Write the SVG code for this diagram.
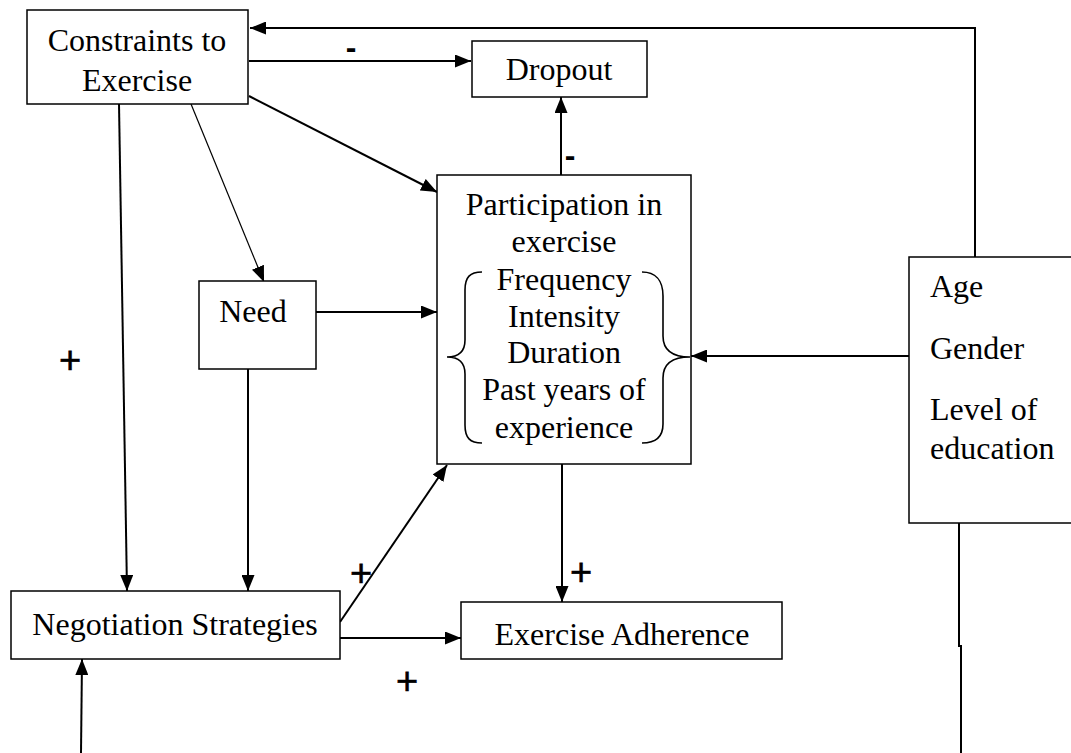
<svg xmlns="http://www.w3.org/2000/svg" width="1071" height="753" viewBox="0 0 1071 753">
<style>
.box{fill:#fff;stroke:#000;stroke-width:1.5}
.t{font-family:"Liberation Serif","Times New Roman",serif;font-size:32px;fill:#000}
.c{text-anchor:middle}
.ln{fill:none;stroke:#000;stroke-width:2}
.thin{fill:none;stroke:#000;stroke-width:1.2}
.s{font-family:"Liberation Sans",Arial,sans-serif;font-size:32px;font-weight:bold;fill:#000;text-anchor:middle}
.p{font-family:"Liberation Sans",Arial,sans-serif;font-size:38px;fill:#000;text-anchor:middle;stroke:#000;stroke-width:0.6}
.br{fill:none;stroke:#000;stroke-width:1.6}
</style>
<defs>
<marker id="ah" markerUnits="userSpaceOnUse" markerWidth="16" markerHeight="13" refX="16" refY="6.5" orient="auto">
<path d="M0,0 L16,6.5 L0,13 z" fill="#000"/>
</marker>
</defs>
<rect width="1071" height="753" fill="#fff"/>
<g id="connectors">
<polyline class="ln" points="975,257 975,28 250,28" marker-end="url(#ah)"/>
<line class="ln" x1="249" y1="61" x2="471" y2="61" marker-end="url(#ah)"/>
<line class="ln" x1="561" y1="175" x2="561" y2="97" marker-end="url(#ah)"/>
<line class="ln" x1="249" y1="96" x2="437" y2="192" marker-end="url(#ah)"/>
<line class="thin" x1="191" y1="104" x2="264" y2="282" marker-end="url(#ah)"/>
<line class="ln" x1="119" y1="104" x2="127" y2="591" marker-end="url(#ah)"/>
<line class="ln" x1="316" y1="312" x2="437" y2="312" marker-end="url(#ah)"/>
<line class="ln" x1="248" y1="369" x2="248" y2="591" marker-end="url(#ah)"/>
<line class="ln" x1="340" y1="622" x2="447" y2="465" marker-end="url(#ah)"/>
<line class="ln" x1="340" y1="638" x2="461" y2="638" marker-end="url(#ah)"/>
<line class="ln" x1="562" y1="464" x2="562" y2="602" marker-end="url(#ah)"/>
<line class="ln" x1="909" y1="356" x2="691" y2="356" marker-end="url(#ah)"/>
<polyline class="ln" points="959,523 959,646 961,646 961,753"/>
<line class="ln" x1="81" y1="753" x2="82" y2="659" marker-end="url(#ah)"/>
<text class="s" x="351" y="58">-</text>
<text class="s" x="570" y="166">-</text>
<text class="p" x="70" y="373">+</text>
<text class="p" x="361" y="586">+</text>
<text class="p" x="407" y="694">+</text>
<text class="p" x="581" y="585">+</text>
</g>
<g id="constraints">
<rect class="box" x="27" y="10" width="221" height="94"/>
<text class="t c" x="137" y="51">Constraints to</text>
<text class="t c" x="137" y="91">Exercise</text>
</g>
<g id="dropout">
<rect class="box" x="472" y="41" width="175" height="56"/>
<text class="t c" x="559" y="80">Dropout</text>
</g>
<g id="participation">
<rect class="box" x="437" y="175" width="254" height="289"/>
<text class="t c" x="564" y="215">Participation in</text>
<text class="t c" x="564" y="252">exercise</text>
<text class="t c" x="564" y="290">Frequency</text>
<text class="t c" x="564" y="327">Intensity</text>
<text class="t c" x="564" y="363">Duration</text>
<text class="t c" x="564" y="400">Past years of</text>
<text class="t c" x="564" y="438">experience</text>
<path class="br" d="M482,272 C470,272 465,277 465,290 L465,340 C465,352 458,357 447,357 C458,357 465,362 465,374 L465,425 C465,438 470,443 482,443"/>
<path class="br" d="M642,272 C655,272 663,280 663,296 L663,336 C663,350 672,357 690,357 C672,357 663,364 663,378 L663,424 C663,438 655,443 642,443"/>
</g>
<g id="need">
<rect class="box" x="199" y="281" width="117" height="88"/>
<text class="t c" x="253" y="322">Need</text>
</g>
<g id="negotiation">
<rect class="box" x="11" y="591" width="329" height="68"/>
<text class="t c" x="175" y="635">Negotiation Strategies</text>
</g>
<g id="adherence">
<rect class="box" x="461" y="602" width="321" height="57"/>
<text class="t c" x="622" y="645">Exercise Adherence</text>
</g>
<g id="demographics">
<rect class="box" x="909" y="257" width="180" height="266"/>
<text class="t" x="930" y="297">Age</text>
<text class="t" x="930" y="359">Gender</text>
<text class="t" x="930" y="420">Level of</text>
<text class="t" x="930" y="459">education</text>
</g>
</svg>
